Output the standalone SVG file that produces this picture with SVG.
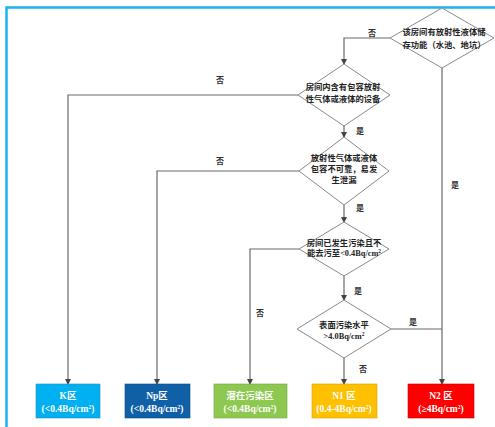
<svg xmlns="http://www.w3.org/2000/svg" width="495" height="427" viewBox="0 0 495 427">
<style>
.frame{fill:none;stroke:#1AB2F0;stroke-width:2.5}
.dm{fill:#fff;stroke:#8a8a8a;stroke-width:1}
.ln{fill:none;stroke:#6a6a6a;stroke-width:1.2}
.t{font-family:"Liberation Serif","Noto Sans CJK SC",serif;font-size:8.3px;fill:#222;text-anchor:middle;font-weight:bold}
.lb{font-family:"Liberation Serif","Noto Sans CJK SC",serif;font-size:8px;fill:#333;text-anchor:middle;font-weight:bold}
.bt{font-family:"Liberation Serif","Noto Sans CJK SC",serif;font-size:9.5px;fill:#fff;text-anchor:middle;font-weight:bold}
.sup{font-size:5.5px}
</style>
<defs>
<marker id="ar" markerWidth="6" markerHeight="6" refX="5" refY="3" orient="auto" markerUnits="userSpaceOnUse">
<path d="M0,0 L6,3 L0,6 z" fill="#444"/>
</marker>
</defs>
<rect width="495" height="427" fill="#fff"/>
<path class="frame" d="M6.5,427 L6.5,7.5 L495,7.5"/>

<g id="connectors">
<path class="ln" d="M390,38 L344,38 L344,64" marker-end="url(#ar)"/>
<path class="ln" d="M298,95 L68,95 L68,384" marker-end="url(#ar)"/>
<path class="ln" d="M344,126 L344,137" marker-end="url(#ar)"/>
<path class="ln" d="M299,171 L157,171 L157,384" marker-end="url(#ar)"/>
<path class="ln" d="M344,205 L344,222" marker-end="url(#ar)"/>
<path class="ln" d="M299,249 L250,249 L250,384" marker-end="url(#ar)"/>
<path class="ln" d="M344,276 L344,300" marker-end="url(#ar)"/>
<path class="ln" d="M344,358 L344,384" marker-end="url(#ar)"/>
<path class="ln" d="M391,329 L442,329"/>
<path class="ln" d="M442,68 L442,384" marker-end="url(#ar)"/>
<text class="lb" x="372" y="36">否</text>
<text class="lb" x="220" y="83">否</text>
<text class="lb" x="360" y="134">是</text>
<text class="lb" x="220" y="164">否</text>
<text class="lb" x="360" y="211">是</text>
<text class="lb" x="358" y="294">是</text>
<text class="lb" x="260" y="316">否</text>
<text class="lb" x="413" y="325">是</text>
<text class="lb" x="363" y="372">否</text>
<text class="lb" x="455" y="188">是</text>
</g>

<g id="d1">
<polygon class="dm" points="442,8 494,38 442,68 390,38"/>
<text class="t" x="444" y="35">该房间有放射性液体储</text>
<text class="t" x="444" y="48">存功能（水池、地坑）</text>
</g>
<g id="d2">
<polygon class="dm" points="344,64 390,95 344,126 298,95"/>
<text class="t" x="343" y="90">房间内含有包容放射</text>
<text class="t" x="343" y="102">性气体或液体的设备</text>
</g>
<g id="d3">
<polygon class="dm" points="344,137 389,171 344,205 299,171"/>
<text class="t" x="344" y="161">放射性气体或液体</text>
<text class="t" x="344" y="172">包容不可靠，易发</text>
<text class="t" x="344" y="183">生泄漏</text>
</g>
<g id="d4">
<polygon class="dm" points="344,222 389,249 344,276 299,249"/>
<text class="t" x="344" y="246">房间已发生污染且不</text>
<text class="t" x="344" y="256">能去污至&lt;0.4Bq/cm<tspan class="sup" dy="-3">2</tspan></text>
</g>
<g id="d5">
<polygon class="dm" points="344,300 391,329 344,358 297,329"/>
<text class="t" x="344" y="328">表面污染水平</text>
<text class="t" x="344" y="339">&gt;4.0Bq/cm<tspan class="sup" dy="-3">2</tspan></text>
</g>

<g id="k">
<rect x="36" y="384" width="64" height="34" fill="#00B0F0" stroke="#2a8fc0" stroke-width="0.6"/>
<text class="bt" x="68" y="399">K区</text>
<text class="bt" x="68" y="412">(&lt;0.4Bq/cm<tspan class="sup" dy="-3">2</tspan><tspan dy="3">)</tspan></text>
</g>
<g id="np">
<rect x="125" y="384" width="65" height="34" fill="#1060A8" stroke="#0c4a80" stroke-width="0.6"/>
<text class="bt" x="157" y="399">Np区</text>
<text class="bt" x="157" y="412">(&lt;0.4Bq/cm<tspan class="sup" dy="-3">2</tspan><tspan dy="3">)</tspan></text>
</g>
<g id="pot">
<rect x="214" y="384" width="73" height="34" fill="#8DC850" stroke="#6ea83a" stroke-width="0.6"/>
<text class="bt" x="250" y="399">潜在污染区</text>
<text class="bt" x="250" y="412">(&lt;0.4Bq/cm<tspan class="sup" dy="-3">2</tspan><tspan dy="3">)</tspan></text>
</g>
<g id="n1">
<rect x="312" y="384" width="65" height="34" fill="#FFC000" stroke="#d9a000" stroke-width="0.6"/>
<text class="bt" x="344" y="399">N1 区</text>
<text class="bt" x="344" y="412">(0.4-4Bq/cm<tspan class="sup" dy="-3">2</tspan><tspan dy="3">)</tspan></text>
</g>
<g id="n2">
<rect x="408" y="384" width="66" height="34" fill="#FF0000" stroke="#c00000" stroke-width="0.6"/>
<text class="bt" x="441" y="399">N2 区</text>
<text class="bt" x="441" y="412">(≥4Bq/cm<tspan class="sup" dy="-3">2</tspan><tspan dy="3">)</tspan></text>
</g>
</svg>
